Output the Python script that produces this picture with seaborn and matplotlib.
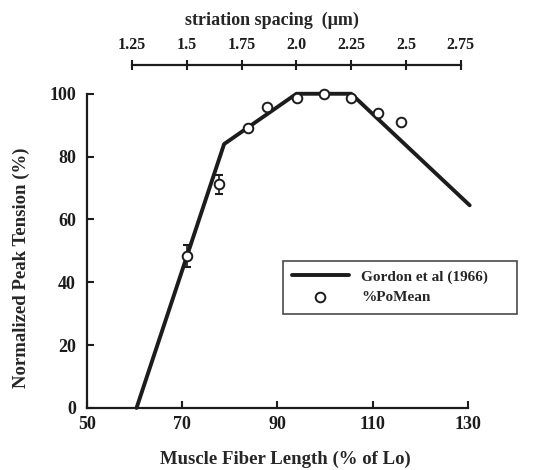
import numpy as np
import matplotlib
matplotlib.use("Agg")
import matplotlib.pyplot as plt
import seaborn as sns

# Gordon et al (1966) length-tension curve
gordon_x = [60.4, 78.8, 94.0, 105.5, 130.4]
gordon_y = [0, 84, 100, 100, 64.5]

# measured points (%PoMean)
fiber_len = [71.0, 77.8, 83.8, 87.8, 94.1, 99.8, 105.4, 111.1, 115.9]
peak_tension = [48.3, 71.2, 89.2, 95.8, 98.6, 99.8, 98.6, 93.8, 91.0]
tension_err = [3.5, 3.0, 0, 0, 0, 0, 0, 0, 0]

x_ticks = [50, 70, 90, 110, 130]
y_ticks = [0, 20, 40, 60, 80, 100]
striation_ticks = [1.25, 1.5, 1.75, 2.0, 2.25, 2.5, 2.75]
striation_labels = ["1.25", "1.5", "1.75", "2.0", "2.25", "2.5", "2.75"]

def striation_to_len(s):
    return 59.45 + 46.07 * (np.asarray(s) - 1.25)

sns.set_style("ticks")
plt.rcParams['font.family'] = ['Liberation Serif', 'DejaVu Serif']
plt.rcParams['font.weight'] = 'bold'
ink = "#1c1c1c"

fig = plt.figure(figsize=(5.34, 4.70), dpi=100)
ax = fig.add_axes([0.163, 0.132, 0.713, 0.73])

sns.lineplot(x=gordon_x, y=gordon_y, ax=ax, color=ink, lw=2.8,
             label="Gordon et al (1966)", clip_on=False)
ax.errorbar(fiber_len[:2], peak_tension[:2], yerr=tension_err[:2], fmt="none",
            ecolor=ink, elinewidth=1.2, capsize=3, capthick=1.5, zorder=3)
sns.scatterplot(x=fiber_len, y=peak_tension, ax=ax, s=48, facecolor="white",
                edgecolor=ink, linewidth=1.4, zorder=4, label="%PoMean", clip_on=False)

ax.set_xlim(50, 130)
ax.set_ylim(0, 109.2)
ax.set_xticks(x_ticks)
ax.set_yticks(y_ticks)
ax.tick_params(direction="in", length=5, width=1.5, colors=ink, labelsize=13)
ax.tick_params(axis="x", pad=6)
ax.tick_params(axis="y", pad=8)
for s in ["top", "right"]:
    ax.spines[s].set_visible(False)
for s in ["left", "bottom"]:
    ax.spines[s].set_linewidth(1.6)
    ax.spines[s].set_color(ink)
ax.spines["left"].set_bounds(0, 100)
for lab in ax.get_xticklabels() + ax.get_yticklabels():
    lab.set_fontweight("bold")
ax.set_xlabel("Muscle Fiber Length (% of Lo)", fontsize=13.5, fontweight="bold")
ax.set_ylabel("Normalized Peak Tension (%)", fontsize=13.5, fontweight="bold")
ax.xaxis.set_label_coords(0.522, -0.124)
ax.yaxis.set_label_coords(-0.150, 0.41)

# top striation spacing axis
ax2 = ax.twiny()
ax2.set_xlim(ax.get_xlim())
for s in ["left", "right", "bottom"]:
    ax2.spines[s].set_visible(False)
ax2.spines["top"].set_bounds(striation_to_len(1.25), striation_to_len(2.75))
ax2.spines["top"].set_linewidth(1.6)
ax2.spines["top"].set_color(ink)
ax2.set_xticks(striation_to_len(striation_ticks))
ax2.set_xticklabels(striation_labels, fontsize=11.5, fontweight="bold")
ax2.tick_params(direction="inout", length=7, width=1.5, colors=ink, pad=5)
ax2.set_xlabel("striation spacing  (\u03bcm)", fontsize=13, fontweight="bold")
ax2.xaxis.set_label_coords(0.486, 1.117)

ax.legend().remove()
h, l = ax.get_legend_handles_labels()
leg = fig.legend(h, l, loc="upper left", bbox_to_anchor=(0.53, 0.325, 0.438, 0.12),
                 mode="expand", frameon=True, fancybox=False, edgecolor=ink,
                 borderaxespad=0, handlelength=3.7, fontsize=11, borderpad=0.6,
                 labelspacing=0.45)
leg.get_frame().set_linewidth(1.2)
for t in leg.get_texts():
    t.set_fontweight("bold")

fig.savefig("out.png", dpi=100)
